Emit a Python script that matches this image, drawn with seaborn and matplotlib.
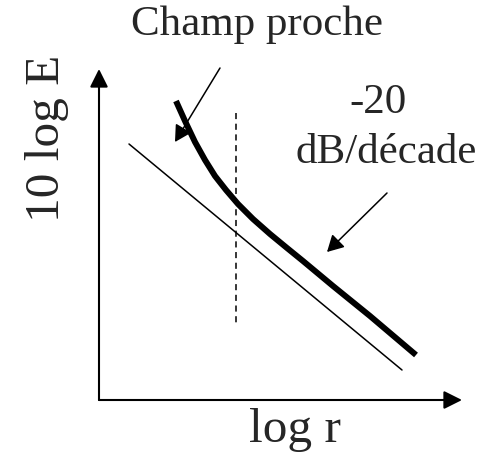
import pandas as pd
import matplotlib
matplotlib.use("Agg")
import matplotlib.pyplot as plt
import seaborn as sns

# schematic values: log r (x) vs 10 log E (y), arbitrary units from the axis origin
far_field_x = [30, 303]
far_field_y = [256, 30]

field_x = [77, 86, 96, 106, 116, 127, 139, 154, 171, 188, 204, 234, 271, 317]
field_y = [299, 279, 258, 240, 224, 210, 196, 181, 166, 152, 139, 114, 84, 45]

boundary_x = [137, 137]
boundary_y = [287, 76]

LABEL_FS = 35.5
NOTE_FS = 31

sns.set_style("white")
plt.rcParams['font.family'] = ['Liberation Serif', 'DejaVu Serif']

fig = plt.figure(figsize=(4.79, 4.56), dpi=100)
ax = fig.add_axes([0, 0, 1, 1])

thin = pd.DataFrame({'x': far_field_x, 'y': far_field_y})
sns.lineplot(data=thin, x='x', y='y', ax=ax, color='black', linewidth=1.1, sort=False)

curve = pd.DataFrame({'x': field_x, 'y': field_y})
sns.lineplot(data=curve, x='x', y='y', ax=ax, color='black', linewidth=4.3, sort=False,
             solid_capstyle='butt', solid_joinstyle='round')

ax.plot(boundary_x, boundary_y, color='black', linewidth=1.1, linestyle=(0, (4, 3)))

# axes with arrow heads
axis_kw = dict(arrowstyle='-|>,head_length=1.1,head_width=0.55', color='black', lw=1.5,
               shrinkA=0, shrinkB=0)
ax.annotate('', xy=(363, 0), xytext=(0, 0), arrowprops=axis_kw)
ax.annotate('', xy=(0, 331), xytext=(0, 0), arrowprops=axis_kw)

note_kw = dict(arrowstyle='-|>,head_length=1.0,head_width=0.55', color='black', lw=1.1,
               shrinkA=0, shrinkB=0)
ax.annotate('', xy=(76, 258), xytext=(121, 332), arrowprops=note_kw)
ax.annotate('', xy=(228, 148), xytext=(288, 207), arrowprops=note_kw)

ax.text(158, 376, 'Champ proche', fontsize=NOTE_FS, ha='center', va='center')
ax.text(279, 298, '-20', fontsize=NOTE_FS, ha='center', va='center')
ax.text(287, 248, 'dB/décade', fontsize=NOTE_FS, ha='center', va='center')
ax.text(196, -29, 'log r', fontsize=LABEL_FS, ha='center', va='center')
ax.text(-52, 263, '10 log E', fontsize=LABEL_FS, ha='center', va='center', rotation=90)

ax.set_xlim(-99, 380)
ax.set_ylim(-55, 401)
ax.set_xlabel('')
ax.set_ylabel('')
ax.axis('off')

fig.savefig('out.png', dpi=100, facecolor='white')
